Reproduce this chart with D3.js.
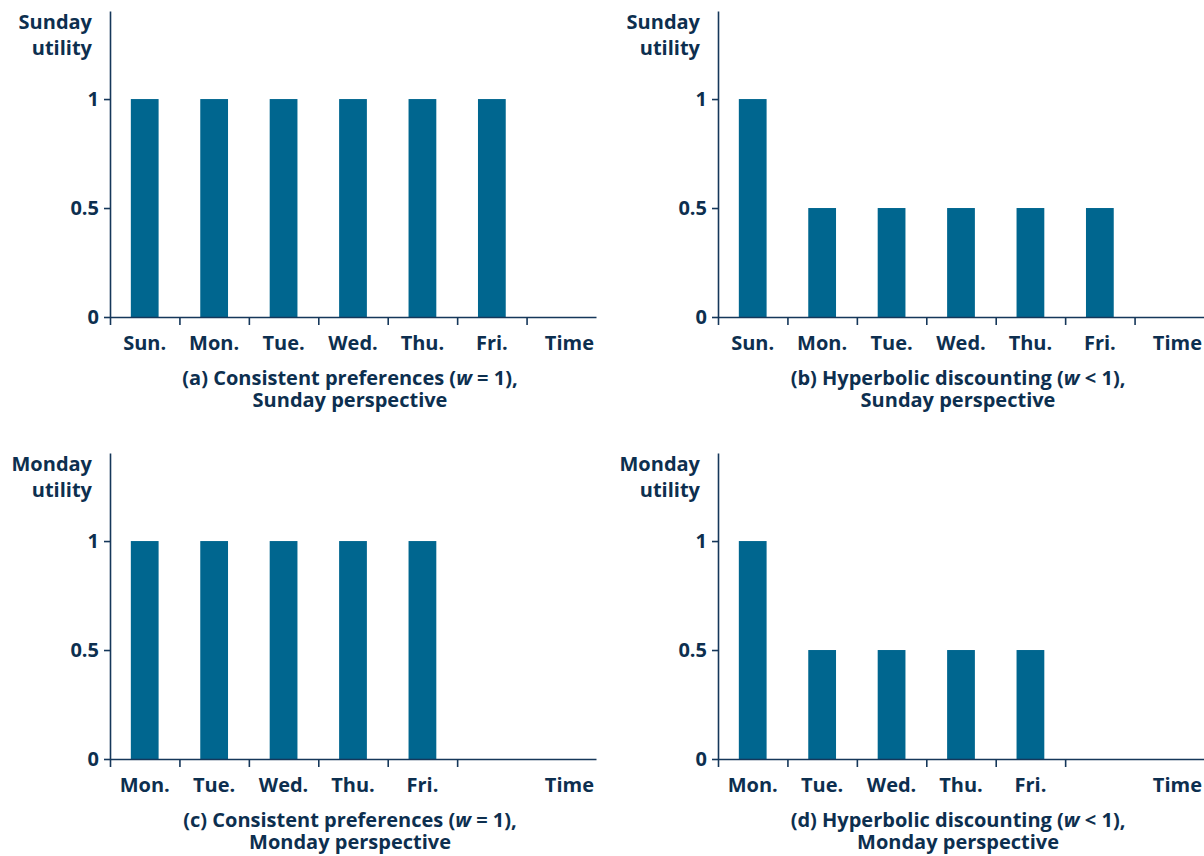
<!DOCTYPE html>
<html>
<head>
<meta charset="utf-8">
<script src="https://cdn.jsdelivr.net/npm/d3@7"></script>
<style>
  html, body { margin: 0; padding: 0; background: #fff; }
  svg text { font-family: "Open Sans", "Noto Sans", sans-serif; font-weight: 700; fill: #0d2f4f; }
</style>
</head>
<body>
<svg id="chart" width="1204" height="856"></svg>
<script>
// ---- data ----
const sundayDays = ["Sun.", "Mon.", "Tue.", "Wed.", "Thu.", "Fri."];
const mondayDays = ["Mon.", "Tue.", "Wed.", "Thu.", "Fri."];
const consistentSunday = [1, 1, 1, 1, 1, 1];
const hyperbolicSunday = [1, 0.5, 0.5, 0.5, 0.5, 0.5];
const consistentMonday = [1, 1, 1, 1, 1];
const hyperbolicMonday = [1, 0.5, 0.5, 0.5, 0.5];
const yTicks = [0, 0.5, 1];
const yTickLabels = ["0", "0.5", "1"];
const timeLabel = "Time";
const sundayYLabel = ["Sunday", "utility"];
const mondayYLabel = ["Monday", "utility"];
const captionA = ["(a) Consistent preferences (", "w", " = 1),", "Sunday perspective"];
const captionB = ["(b) Hyperbolic discounting (", "w", " < 1),", "Sunday perspective"];
const captionC = ["(c) Consistent preferences (", "w", " = 1),", "Monday perspective"];
const captionD = ["(d) Hyperbolic discounting (", "w", " < 1),", "Monday perspective"];

// ---- layout ----
const svg = d3.select("#chart");
const barColor = "#00668f";
const axisColor = "#15375a";
const slots = 7;
const plotW = 486, plotH = 306, yMax = 1.404;
const fontSize = 20;

const panels = [
  { ox: 110, oy: 11, cats: sundayDays, vals: consistentSunday, ylab: sundayYLabel, cap: captionA },
  { ox: 718, oy: 11, cats: sundayDays, vals: hyperbolicSunday, ylab: sundayYLabel, cap: captionB },
  { ox: 110, oy: 453, cats: mondayDays, vals: consistentMonday, ylab: mondayYLabel, cap: captionC },
  { ox: 718, oy: 453, cats: mondayDays, vals: hyperbolicMonday, ylab: mondayYLabel, cap: captionD }
];

panels.forEach(p => {
  const g = svg.append("g").attr("transform", `translate(${p.ox},${p.oy})`);
  const x = d3.scaleBand().domain(d3.range(slots)).range([0, plotW]).paddingInner(0.6).paddingOuter(0.3);
  const xb = d3.scaleLinear().domain([0, slots]).range([0, plotW]);
  const y = d3.scaleLinear().domain([0, yMax]).range([plotH, 0]);

  // bars
  g.selectAll("rect.bar").data(p.vals).join("rect")
    .attr("class", "bar")
    .attr("x", (d, i) => x(i))
    .attr("width", x.bandwidth())
    .attr("y", d => y(d))
    .attr("height", d => y(0) - y(d))
    .attr("fill", barColor);

  // x axis with boundary ticks
  const xa = g.append("g").attr("transform", `translate(0,${plotH})`)
    .call(d3.axisBottom(xb).tickValues(d3.range(p.cats.length + 1)).tickFormat("").tickSize(8).tickSizeOuter(0));
  xa.select(".domain").attr("stroke", axisColor).attr("stroke-width", 1.6);
  xa.selectAll(".tick line").attr("stroke", axisColor).attr("stroke-width", 1.6);

  // category labels
  g.selectAll("text.cat").data(p.cats).join("text")
    .attr("class", "cat")
    .attr("x", (d, i) => x(i) + x.bandwidth() / 2)
    .attr("y", plotH + 33)
    .attr("text-anchor", "middle")
    .attr("font-size", fontSize)
    .text(d => d);
  g.append("text").attr("x", plotW - 2).attr("y", plotH + 33)
    .attr("text-anchor", "end").attr("font-size", fontSize).text(timeLabel);

  // y axis
  const ya = g.append("g")
    .call(d3.axisLeft(y).tickValues(yTicks).tickFormat((d, i) => yTickLabels[i]).tickSize(6).tickSizeOuter(0).tickPadding(5));
  ya.select(".domain").attr("stroke", axisColor).attr("stroke-width", 1.6);
  ya.selectAll(".tick line").attr("stroke", axisColor).attr("stroke-width", 1.6);
  ya.selectAll(".tick text").attr("font-size", fontSize).attr("fill", "#0d2f4f")
    .attr("font-family", "'Open Sans', 'Noto Sans', sans-serif").attr("font-weight", 700);

  // y label
  p.ylab.forEach((t, i) => {
    g.append("text").attr("x", -18).attr("y", 18 + i * 26)
      .attr("text-anchor", "end").attr("font-size", fontSize).text(t);
  });

  // caption (two lines in one text element)
  const c = g.append("text").attr("x", 240).attr("y", plotH + 68)
    .attr("text-anchor", "middle").attr("font-size", fontSize);
  c.append("tspan").text(p.cap[0]);
  c.append("tspan").attr("font-style", "italic").text(p.cap[1]);
  c.append("tspan").text(p.cap[2]);
  c.append("tspan").attr("x", 240).attr("dy", 22).text(p.cap[3]);
});
</script>
</body>
</html>
